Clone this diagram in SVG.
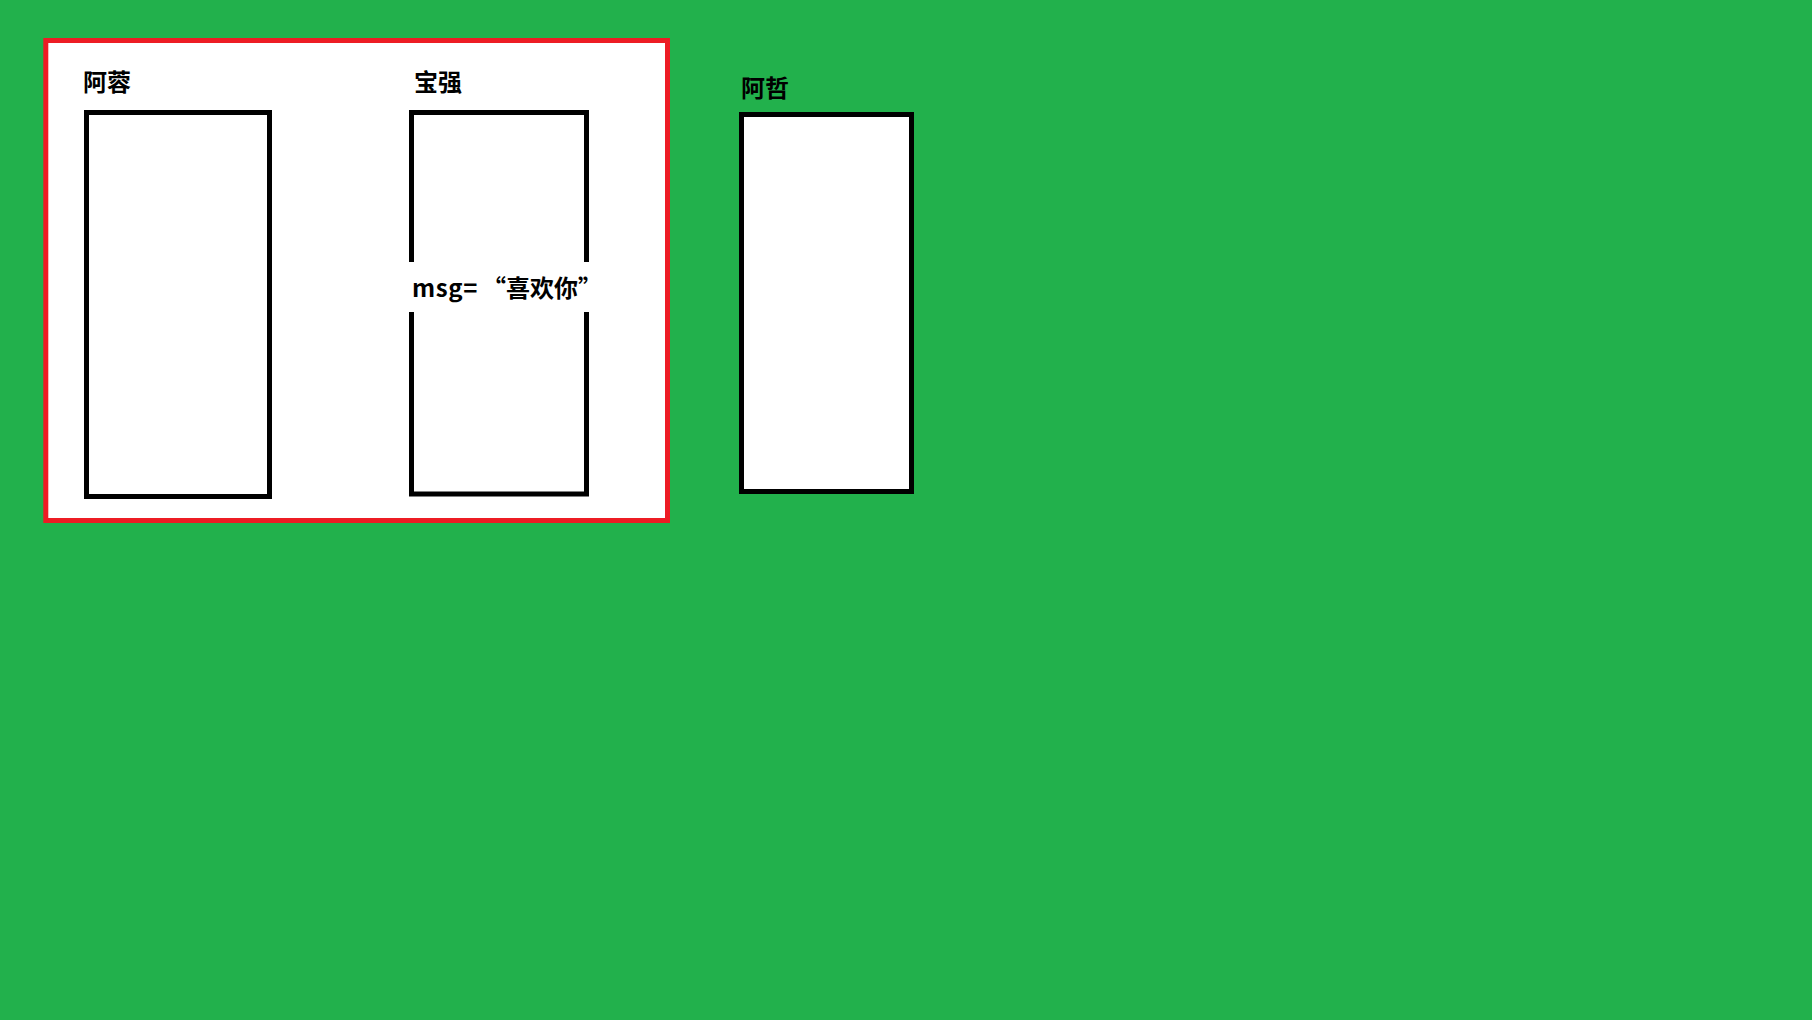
<svg xmlns="http://www.w3.org/2000/svg" width="1812" height="1020" viewBox="0 0 1812 1020">
<style>
.box{fill:#ffffff;stroke:#000000;stroke-width:5}
.open{fill:none;stroke:#000000;stroke-width:5;stroke-linejoin:miter;stroke-linecap:butt}
.lbl{font-family:"Microsoft YaHei","Noto Sans CJK SC",sans-serif;font-weight:bold;font-size:24px;fill:#000000}
</style>
<rect x="0" y="0" width="1812" height="1020" fill="#22B14C"/>
<g id="frame">
<rect x="45.8" y="40.5" width="621.7" height="480" fill="#ffffff" stroke="#ED1C24" stroke-width="5"/>
</g>
<g id="arong">
<text class="lbl" x="83" y="91">阿蓉</text>
<rect class="box" x="86.5" y="112.5" width="183" height="384"/>
</g>
<g id="baoqiang">
<text class="lbl" x="414" y="91">宝强</text>
<path class="open" d="M411.5,262 V112.5 H586.5 V262 M411.5,312 V494 H586.5 V312"/>
<text class="lbl" x="412" y="297" letter-spacing="0.6">msg=<tspan x="482" letter-spacing="0">“喜欢你”</tspan></text>
</g>
<g id="azhe">
<text class="lbl" x="741" y="97">阿哲</text>
<rect class="box" x="741.5" y="114.5" width="170" height="377"/>
</g>
<g id="connectors"></g>
</svg>
